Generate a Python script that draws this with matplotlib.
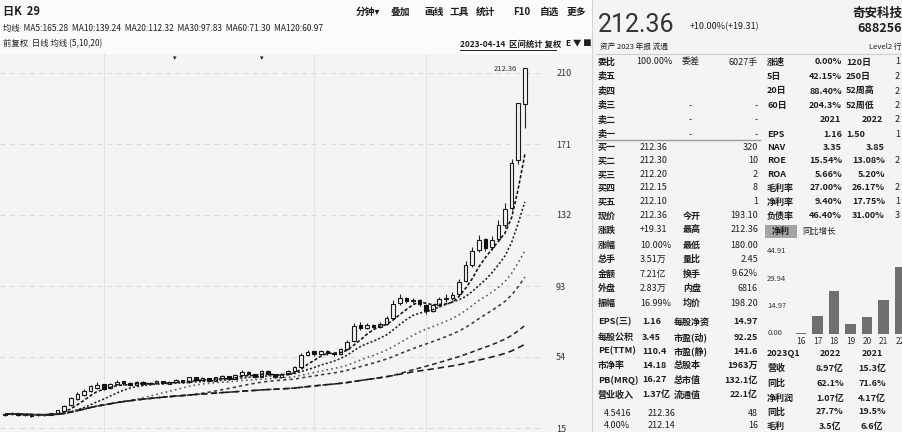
import matplotlib
matplotlib.use("Agg")
import matplotlib.pyplot as plt
import numpy as np
import pandas as pd

plt.rcParams['font.family'] = ['Noto Sans CJK SC', 'DejaVu Sans']

# -----------------------------------------------
# K线数据
# -----------------------------------------------
opens = [22.0, 22.6, 23.0, 22.1, 22.4, 21.9, 22.0, 22.4, 22.9, 24.6,
         27.5, 31.2, 33.0, 35.2, 37.0, 38.6, 36.8, 39.2, 40.3, 39.4,
         38.7, 40.2, 39.0, 39.6, 40.6, 39.4, 40.2, 41.2, 40.1, 42.6,
         41.4, 42.2, 41.0, 42.6, 43.2, 42.1, 44.2, 45.6, 44.4, 43.2,
         46.1, 44.3, 43.1, 44.6, 46.2, 48.5, 55.2, 56.8, 55.4, 57.1,
         55.8, 55.6, 58.2, 63.0, 71.5, 70.2, 71.4, 70.6, 72.3, 75.5,
         83.5, 86.2, 84.6, 85.2, 82.5, 79.4, 82.3, 85.6, 86.4, 88.5,
         96.0, 104.5, 112.8, 118.5, 114.2, 119.0, 126.5, 136.0, 162.0, 193.1]
closes = [22.5, 23.0, 22.0, 22.5, 21.8, 22.0, 22.3, 22.8, 24.5, 27.0,
          31.0, 33.5, 35.0, 37.5, 38.5, 36.5, 39.0, 40.0, 39.5, 38.5,
          40.0, 39.0, 39.5, 40.5, 39.5, 40.0, 41.0, 40.0, 42.5, 41.5,
          42.0, 41.0, 42.5, 43.0, 42.0, 44.0, 45.5, 44.5, 43.0, 46.0,
          44.5, 43.0, 44.5, 46.0, 48.0, 55.0, 56.5, 55.5, 57.0, 56.0,
          55.5, 58.0, 62.0, 71.0, 70.0, 71.5, 70.5, 72.0, 75.0, 83.0,
          86.0, 84.5, 85.0, 83.0, 79.0, 82.0, 85.5, 86.0, 88.0, 95.0,
          104.0, 112.0, 118.0, 114.0, 118.0, 126.0, 135.0, 160.0, 193.05, 212.36]
highs = [23.2, 23.6, 23.3, 22.9, 22.7, 22.5, 22.8, 23.4, 25.0, 27.6,
         31.8, 34.6, 36.2, 38.8, 40.2, 39.0, 39.8, 41.2, 40.9, 40.0,
         40.8, 40.6, 40.2, 41.3, 41.0, 40.7, 41.8, 41.6, 43.0, 43.2,
         42.8, 42.6, 43.1, 43.9, 43.6, 44.8, 46.6, 46.2, 44.9, 46.8,
         46.7, 44.8, 45.2, 46.9, 49.0, 56.2, 58.0, 57.5, 57.8, 57.6,
         56.6, 58.9, 63.2, 72.5, 73.0, 72.6, 72.2, 73.1, 76.5, 85.4,
         88.8, 87.0, 86.4, 85.9, 83.0, 83.2, 86.8, 88.5, 89.6, 96.8,
         106.5, 114.6, 121.0, 119.6, 120.4, 129.0, 138.5, 162.5, 193.05, 212.36]
lows = [21.5, 22.2, 21.6, 21.7, 21.3, 21.4, 21.7, 22.0, 22.6, 24.2,
        27.0, 30.5, 32.4, 34.6, 36.4, 35.8, 36.2, 38.6, 38.8, 38.0,
        38.2, 38.5, 38.6, 39.2, 39.0, 39.0, 39.8, 39.5, 39.8, 41.0,
        40.9, 40.5, 40.6, 42.0, 41.5, 41.8, 43.8, 44.0, 42.4, 42.8,
        44.0, 42.5, 42.7, 44.1, 45.8, 48.0, 54.4, 54.8, 54.9, 55.2,
        54.6, 55.0, 57.8, 62.4, 69.0, 69.5, 69.8, 70.0, 71.8, 75.0,
        82.6, 83.6, 83.5, 81.8, 77.4, 78.6, 81.6, 84.2, 85.5, 87.9,
        95.2, 103.6, 111.5, 112.0, 113.0, 118.2, 125.0, 134.5, 160.0, 180.0]

ma_windows = [5, 10, 20, 30, 60, 120]
ma_styles = [(0, (2, 1.3)), (0, (1.3, 1.3)), (0, (1, 2)), (0, (2, 2)), (0, (3, 2)), (0, (4, 2.5))]
ma_colors = ['#111111', '#222222', '#555555', '#3a3a3a', '#2a2a2a', '#1a1a1a']

price_ticks = [210, 171, 132, 93, 54, 15]
vgrid_idx = [15, 47, 64]

# 净利润柱状图
profit_years = ['16', '17', '18', '19', '20', '21', '22']
profit_vals = [0.5, 10.0, 23.8, 5.5, 9.4, 18.8, 37.0]
profit_ticks = [0.00, 14.97, 29.94, 44.91]

W, H = 903, 432
BG = '#f4f4f4'
TXT = '#1e1e1e'


def fx(px):
    return px / W


def fy(py):
    return 1 - py / H


fig = plt.figure(figsize=(W / 100, H / 100), dpi=100, facecolor=BG)


def t(x, y, s, size=6.5, ha='left', weight='normal', color=TXT, **kw):
    fig.text(fx(x), fy(y), s, fontsize=size, ha=ha, va='center',
             weight=weight, color=color, **kw)


# header strip
fig.patches.append(plt.Rectangle((0, fy(54)), fx(592), 54 / H, transform=fig.transFigure,
                                 facecolor='#fbfbfb', edgecolor='none', zorder=0))

# -----------------------------------------------
# main K line axes
# -----------------------------------------------
ax = fig.add_axes([0, 0, fx(545), (H - 54) / H])
ax.set_facecolor(BG)
for s in ax.spines.values():
    s.set_visible(False)

n = len(closes)
idx = np.arange(n)
o = np.array(opens)
c = np.array(closes)
hi = np.array(highs)
lo = np.array(lows)

k = 195 / 355
ax.set_ylim(210 - k * (432 - 73), 210 + k * (73 - 54))
ax.set_xlim(-5 / 6.58, 540 / 6.58)

for p in price_ticks:
    ax.axhline(p, color='#dadada', lw=0.7, ls=(0, (5, 5)), zorder=0)
for v in vgrid_idx:
    ax.axvline(v, color='#e2e2e2', lw=0.8, zorder=0)

up = c >= o
ax.vlines(idx, lo, hi, color='#222222', lw=0.8, zorder=2)
ax.bar(idx[up], np.abs(c - o)[up] + 0.3, bottom=np.minimum(o, c)[up], width=0.55,
       facecolor=BG, edgecolor='#1a1a1a', linewidth=0.8, zorder=3)
ax.bar(idx[~up], np.abs(c - o)[~up] + 0.3, bottom=np.minimum(o, c)[~up], width=0.55,
       facecolor='#111111', edgecolor='#111111', linewidth=0.8, zorder=3)

ma_vals = []
for w, st, col in zip(ma_windows, ma_styles, ma_colors):
    ma = pd.Series(closes).rolling(w, min_periods=1).mean()
    ma_vals.append(ma.iloc[-1])
    ax.plot(idx, ma, ls=st, color=col, lw=1.15, zorder=4)

ax.text(idx[-1] - 1.2, hi.max(), '%.2f' % hi.max(), fontsize=5.5, ha='right', va='center', color='#333333')

ax.yaxis.tick_right()
ax.set_yticks(price_ticks)
ax.set_yticklabels([str(p) for p in price_ticks], fontsize=6.5, color='#333333')
ax.tick_params(axis='y', length=0, pad=8)
ax.set_xticks([])

# event marks
t(175, 58, '▾', size=5, ha='center')
t(262, 58, '▾', size=5, ha='center')

# header texts
t(3, 12, '日K  29', size=8, weight='bold')
tools = ['分钟▾', '叠加', '画线', '工具', '统计', 'F10', '自选', '更多']
tool_x = [356, 390, 424, 450, 476, 513, 540, 567]
for s, x in zip(tools, tool_x):
    t(x, 12, s, size=7, weight='bold')

ma_txt = '  '.join('MA%d:%.2f' % (w, v) for w, v in zip(ma_windows, ma_vals))
t(3, 28, '均线  ' + ma_txt, size=6)
t(3, 44, '前复权  日线 均线 (5,10,20)', size=6)
t(460, 44, '2023-04-14  区间统计 复权', size=6, weight='bold')
fig.lines.append(plt.Line2D([fx(460), fx(556)], [fy(49.5), fy(49.5)], transform=fig.transFigure,
                            color='#222222', lw=0.7))
t(566, 44, 'E ▼ ■', size=6, weight='bold')

# separators
fig.lines.append(plt.Line2D([fx(592), fx(592)], [0, 1], transform=fig.transFigure, color='#d4d4d4', lw=0.8))
fig.lines.append(plt.Line2D([fx(596), 1], [fy(54), fy(54)], transform=fig.transFigure, color='#cfcfcf', lw=0.8))
fig.lines.append(plt.Line2D([fx(596), fx(760)], [fy(140), fy(140)], transform=fig.transFigure, color='#9a9a9a', lw=1.0))

# -----------------------------------------------
# right quote panel
# -----------------------------------------------
t(598, 25, '212.36', size=18, family=['Roboto', 'DejaVu Sans'], color='#333333')
t(690, 27, '+10.00%(+19.31)', size=6.5)
t(902, 13, '奇安科技', size=9, ha='right', weight='bold')
t(902, 29, '688256', size=9, ha='right', weight='bold')
t(902, 47, 'Level2 行', size=5.5, ha='right')
t(600, 47, '资产 2023 年报 流通', size=5.5)

rows1 = [('委比', '100.00%', '委差', '6027手'), ('卖五', '', '', ''), ('卖四', '', '', ''),
         ('卖三', '-', '', '-'), ('卖二', '-', '', '-'), ('卖一', '-', '', '-')]
side1 = [('涨速', '0.00%', '120日', '1'), ('5日', '42.15%', '250日', '2'),
         ('20日', '88.40%', '52周高', '2'), ('60日', '204.3%', '52周低', '2'),
         ('', '2021', '2022', '2'), ('EPS', '1.16', '1.50', '1')]
rows1_y = [62, 76.5, 91, 105.5, 120, 134.5]
for (a, b, cc, d), (e, f, g, h), y in zip(rows1, side1, rows1_y):
    t(598, y, a, weight='bold')
    t(690 if b == '-' else 636, y, b, ha='center' if b == '-' else 'left')
    t(682, y, cc)
    t(758, y, d, ha='right')
    t(767, y, e, weight='bold')
    if e == '':
        t(830, y, f, ha='center', weight='bold')
        t(872, y, g, ha='center', weight='bold')
    else:
        t(842, y, f, ha='right', weight='bold')
        t(846, y, g, weight='bold')
    t(895, y, h)

rows2 = [('买一', '212.36', '', '320'), ('买二', '212.30', '', '10'), ('买三', '212.20', '', '2'),
         ('买四', '212.15', '', '8'), ('买五', '212.10', '', '1'),
         ('现价', '212.36', '今开', '193.10'), ('涨跌', '+19.31', '最高', '212.36'),
         ('涨幅', '10.00%', '最低', '180.00'), ('总手', '3.51万', '量比', '2.45'),
         ('金额', '7.21亿', '换手', '9.62%'), ('外盘', '2.83万', '内盘', '6816'),
         ('振幅', '16.99%', '均价', '198.20')]
rows2_y = [147, 160.5, 174.5, 188, 202, 216, 230, 245, 259.5, 274, 288.5, 303]
for (a, b, cc, d), y in zip(rows2, rows2_y):
    t(598, y, a, weight='bold')
    t(640, y, b)
    t(683, y, cc, weight='bold')
    t(758, y, d, ha='right')

side2 = [('NAV', '3.35', '3.85', ''), ('ROE', '15.54%', '13.08%', '2'), ('ROA', '5.66%', '5.20%', ''),
         ('毛利率', '27.00%', '26.17%', '2'), ('净利率', '9.40%', '17.75%', '1'),
         ('负债率', '46.40%', '31.00%', '3')]
for (a, b, cc, d), y in zip(side2, rows2_y[:6]):
    t(767, y, a, weight='bold')
    t(842, y, b, ha='right', weight='bold')
    t(885, y, cc, ha='right', weight='bold')
    t(895, y, d)

rows3 = [('EPS(三)', '1.16', '每股净资', '14.97'), ('每股公积', '3.45', '市盈(动)', '92.25'),
         ('PE(TTM)', '110.4', '市盈(静)', '141.6'), ('市净率', '14.18', '总股本', '1963万'),
         ('PB(MRQ)', '16.27', '总市值', '132.1亿'), ('营业收入', '1.37亿', '流通值', '22.1亿')]
rows3_y = [322, 337, 351, 365.5, 380, 395]
for (a, b, cc, d), y in zip(rows3, rows3_y):
    t(598, y, a, weight='bold')
    t(642, y, b, weight='bold')
    t(674, y, cc, weight='bold')
    t(758, y, d, ha='right', weight='bold')

for (a, b, d), y in zip([('4.5416', '212.36', '48'), ('4.00%', '212.14', '16')], [413, 426]):
    t(604, y, a)
    t(648, y, b)
    t(758, y, d, ha='right')

# 净利润 chip
fig.patches.append(plt.Rectangle((fx(765), fy(238)), 32 / W, 13 / H, transform=fig.transFigure,
                                 facecolor='#a4a4a4', edgecolor='none'))
t(781, 231.5, '净利', size=6.5, ha='center', weight='bold')
t(802, 231.5, '同比增长', size=6)

bx = fig.add_axes([fx(765), fy(334), 138 / W, 89 / H])
bx.set_facecolor(BG)
for s in bx.spines.values():
    s.set_visible(False)
bpos = np.arange(len(profit_vals))
bx.bar(bpos, profit_vals, width=0.62, color='#6f6f6f')
bx.set_xlim(-2.18, 6.18)
bx.set_ylim(0, 49.3)
bx.set_xticks(bpos)
bx.set_xticklabels(profit_years, fontsize=6, color='#333333')
bx.tick_params(axis='x', length=0, pad=2)
bx.set_yticks([])
bx.axhline(0, xmin=0.17, xmax=0.3, color='#555555', lw=0.8)
for v in profit_ticks:
    bx.text(-2.05, v + 0.8, '%.2f' % v, fontsize=5.5, va='center', color='#333333')

# bottom right table
tab_rows = [('2023Q1', '2022', '2021'), ('营收', '8.97亿', '15.3亿'), ('同比', '62.1%', '71.6%'),
            ('净利润', '1.07亿', '4.17亿'), ('同比', '27.7%', '19.5%'), ('毛利', '3.5亿', '6.6亿')]
tab_y = [353, 368, 383, 398, 412, 426]
for (a, b, cc), y in zip(tab_rows, tab_y):
    t(767, y, a, weight='bold')
    t(830, y, b, ha='center', weight='bold')
    t(872, y, cc, ha='center', weight='bold')

fig.savefig('out.png', dpi=100, facecolor=BG)
